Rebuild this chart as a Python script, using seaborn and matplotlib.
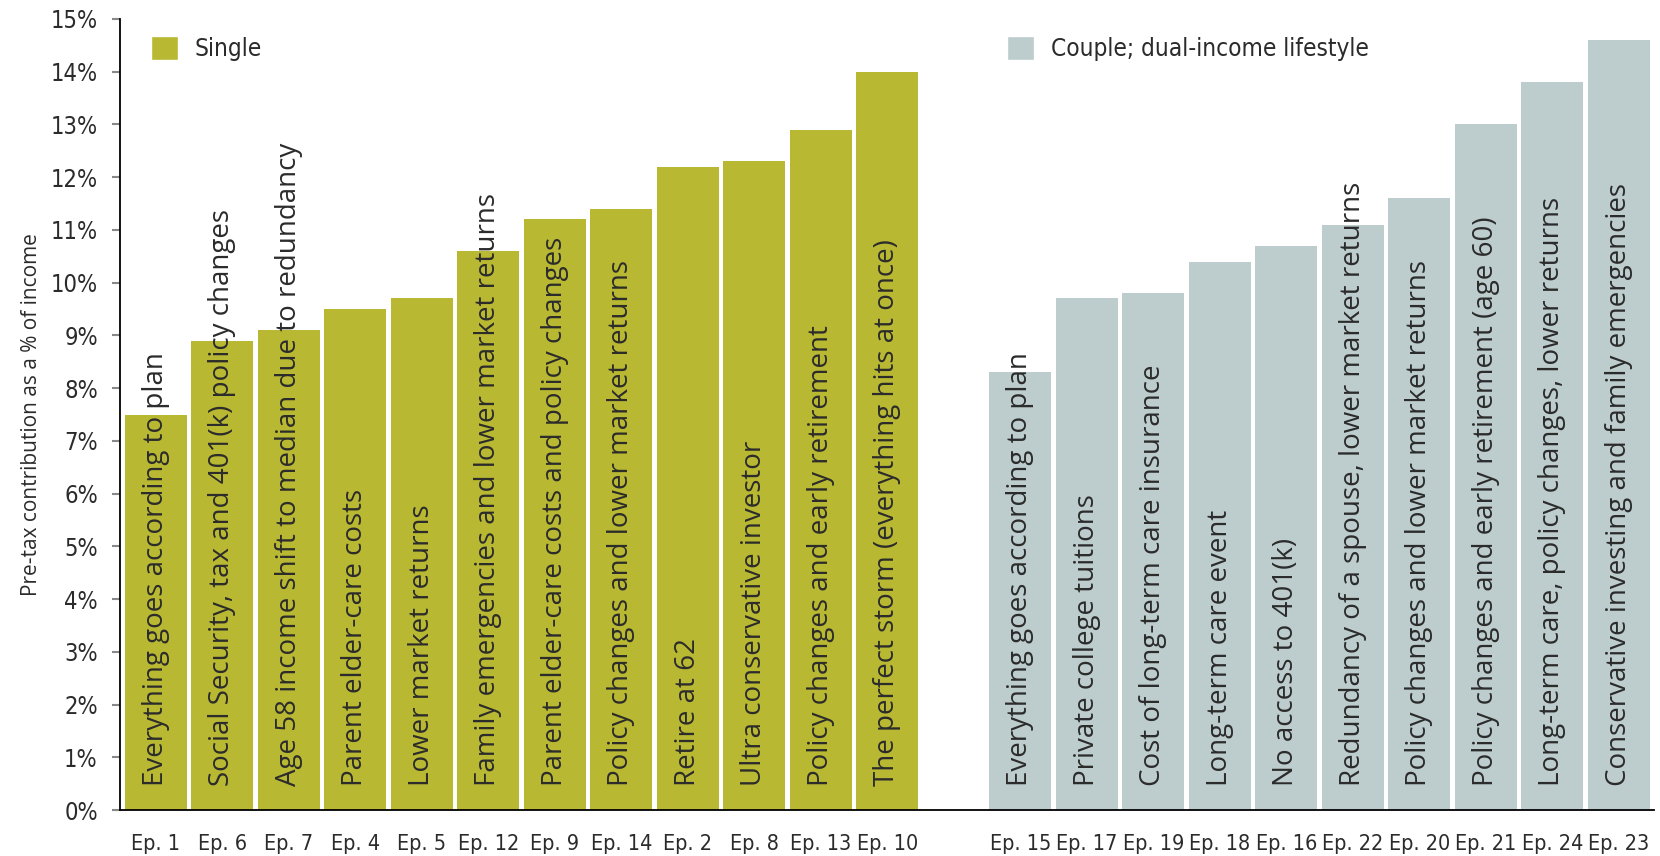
import matplotlib
matplotlib.use("Agg")
import matplotlib.pyplot as plt
from matplotlib.patches import Patch
from matplotlib.ticker import FuncFormatter, MultipleLocator
import seaborn as sns
import pandas as pd

# ---------------- data ----------------
single_episodes = ["Ep. 1", "Ep. 6", "Ep. 7", "Ep. 4", "Ep. 5", "Ep. 12",
                   "Ep. 9", "Ep. 14", "Ep. 2", "Ep. 8", "Ep. 13", "Ep. 10"]
single_values = [7.5, 8.9, 9.1, 9.5, 9.7, 10.6, 11.2, 11.4, 12.2, 12.3, 12.9, 14.0]
single_labels = [
    "Everything goes according to plan",
    "Social Security, tax and 401(k) policy changes",
    "Age 58 income shift to median due to redundancy",
    "Parent elder-care costs",
    "Lower market returns",
    "Family emergencies and lower market returns",
    "Parent elder-care costs and policy changes",
    "Policy changes and lower market returns",
    "Retire at 62",
    "Ultra conservative investor",
    "Policy changes and early retirement",
    "The perfect storm (everything hits at once)",
]

couple_episodes = ["Ep. 15", "Ep. 17", "Ep. 19", "Ep. 18", "Ep. 16",
                   "Ep. 22", "Ep. 20", "Ep. 21", "Ep. 24", "Ep. 23"]
couple_values = [8.3, 9.7, 9.8, 10.4, 10.7, 11.1, 11.6, 13.0, 13.8, 14.6]
couple_labels = [
    "Everything goes according to plan",
    "Private college tuitions",
    "Cost of long-term care insurance",
    "Long-term care event",
    "No access to 401(k)",
    "Redundancy of a spouse, lower market returns",
    "Policy changes and lower market returns",
    "Policy changes and early retirement (age 60)",
    "Long-term care, policy changes, lower returns",
    "Conservative investing and family emergencies",
]

group_names = ["Single", "Couple; dual-income lifestyle"]

# ---------------- styling ----------------
SINGLE_COLOR = "#B9B833"
COUPLE_COLOR = "#BDCCCC"
TEXT_COLOR = "#2b2b2b"
BODY = ["Open Sans", "DejaVu Sans"]

sns.set_theme(style="white")
plt.rcParams["font.family"] = ["DejaVu Sans"]

df = pd.DataFrame({
    "episode": single_episodes + couple_episodes,
    "value": single_values + couple_values,
    "label": single_labels + couple_labels,
    "group": [group_names[0]] * len(single_episodes) + [group_names[1]] * len(couple_episodes),
})
spacer = " "
order = single_episodes + [spacer] + couple_episodes

fig = plt.figure(figsize=(16.6, 8.56), dpi=100)
ax = fig.add_axes([120 / 1660, 1 - 810 / 856, 1534 / 1660, 791 / 856])

sns.barplot(data=df, x="episode", y="value", hue="group", order=order,
            hue_order=group_names, palette=[SINGLE_COLOR, COUPLE_COLOR],
            dodge=False, width=0.93, legend=False, ax=ax, saturation=1,
            linewidth=0)

# in-bar labels
for ep, lab in zip(df["episode"], df["label"]):
    xpos = order.index(ep)
    ax.text(xpos, 0.45, lab, rotation=90, ha="center", va="bottom",
            fontsize=20, color=TEXT_COLOR, family=BODY)

ax.set_ylim(0, 15)
ax.set_xlim(-0.54, len(order) - 1 + 0.53)
ax.yaxis.set_major_locator(MultipleLocator(1))
ax.yaxis.set_major_formatter(FuncFormatter(lambda v, p: f"{v:.0f}%"))

for s in ["top", "right"]:
    ax.spines[s].set_visible(False)
for s in ["left", "bottom"]:
    ax.spines[s].set_color("black")
    ax.spines[s].set_linewidth(1.3)

ax.tick_params(axis="y", left=True, length=6, width=1.5, color="#888888",
               pad=10, labelsize=17, labelcolor=TEXT_COLOR)
ax.tick_params(axis="x", length=0, pad=17, labelsize=15.5, labelcolor=TEXT_COLOR)
for t in ax.get_xticklabels() + ax.get_yticklabels():
    t.set_family("DejaVu Sans")
    t.set_fontstretch("condensed")

ax.set_xlabel("")
ax.set_ylabel("Pre-tax contribution as a % of income", fontsize=15,
              color=TEXT_COLOR, family=BODY, labelpad=6)

# legends
leg_kw = dict(loc="upper left", frameon=False, borderpad=0, borderaxespad=0,
              handlelength=1.1, handleheight=1.15, handletextpad=0.7,
              prop={"family": "DejaVu Sans", "stretch": "condensed", "size": 17.5},
              labelcolor=TEXT_COLOR)
leg1 = ax.legend(handles=[Patch(facecolor=SINGLE_COLOR, label=group_names[0])],
                 bbox_to_anchor=(0.0202, 0.979), **leg_kw)
ax.add_artist(leg1)
ax.legend(handles=[Patch(facecolor=COUPLE_COLOR, label=group_names[1])],
          bbox_to_anchor=(0.5785, 0.979), **leg_kw)

fig.savefig("out.png", dpi=100)
